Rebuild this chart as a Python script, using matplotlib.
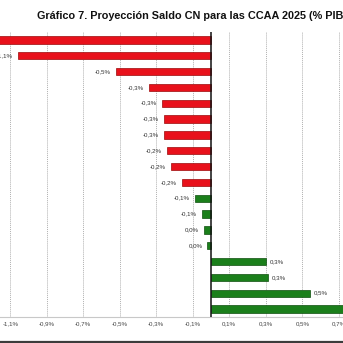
import matplotlib
matplotlib.use("Agg")
import matplotlib.pyplot as plt
from matplotlib.lines import Line2D
import numpy as np

# ---- data (top to bottom) ----
values = [-1.25, -1.06, -0.52, -0.34, -0.27, -0.26, -0.26, -0.24, -0.22, -0.16,
          -0.09, -0.05, -0.04, -0.02, 0.30, 0.31, 0.54, 0.78]
value_labels = ["-1,3%", "-1,1%", "-0,5%", "-0,3%", "-0,3%", "-0,3%", "-0,3%", "-0,2%",
                "-0,2%", "-0,2%", "-0,1%", "-0,1%", "0,0%", "0,0%", "0,3%", "0,3%",
                "0,5%", "0,8%"]
groups = ["rojo"] * 10 + ["verde"] * 8
tick_values = [-1.1, -0.9, -0.7, -0.5, -0.3, -0.1, 0.1, 0.3, 0.5, 0.7]
tick_labels = ["-1,1%", "-0,9%", "-0,7%", "-0,5%", "-0,3%", "-0,1%", "0,1%", "0,3%", "0,5%", "0,7%"]
title = "Gráfico 7. Proyección Saldo CN para las CCAA 2025 (% PIB)"

plt.rcParams['font.family'] = ['Liberation Sans', 'DejaVu Sans']

W = H = 343
fig = plt.figure(figsize=(W / 100, H / 100), dpi=100)
fig.patch.set_facecolor("white")

ax_top, ax_bot = 32, 317
ax = fig.add_axes([0, (H - ax_bot) / H, 1, (ax_bot - ax_top) / H])

face = {"rojo": "#e8111b", "verde": "#1b7f1b"}
edge = {"rojo": "#9a0a0a", "verde": "#0f4f0f"}

y = np.arange(len(values))
ax.barh(y, values, height=0.46,
        color=[face[g] for g in groups],
        edgecolor=[edge[g] for g in groups], linewidth=0.5, zorder=3)

ax.set_xlim(-211 / 182.5, 132 / 182.5)
ax.set_ylim(len(values) - 0.5, -0.5)

for yi, v, lab in zip(y, values, value_labels):
    if v < 0:
        ax.annotate(lab, (v, yi), xytext=(-5, 0), textcoords="offset pixels",
                    ha="right", va="center", fontsize=4.4, color="#333333", zorder=4)
    else:
        ax.annotate(lab, (v, yi), xytext=(4, 0), textcoords="offset pixels",
                    ha="left", va="center", fontsize=4.4, color="#333333", zorder=4)

ax.axvline(0, color="#111111", lw=1.1, zorder=5)
for tv in tick_values:
    ax.axvline(tv, color="#b0b0b0", lw=0.7, ls=(0, (1, 1)), zorder=1)

ax.set_xticks(tick_values)
ax.set_xticklabels(tick_labels, fontsize=4.4, color="#444444")
ax.tick_params(axis="x", length=0, pad=3)
ax.set_yticks([])
for s in ["top", "left", "right"]:
    ax.spines[s].set_visible(False)
ax.spines["bottom"].set_color("#c8c8c8")
ax.spines["bottom"].set_linewidth(0.8)

fig.text(36.7 / W, 1 - 19 / H, title, fontsize=7.8, fontweight="bold",
         ha="left", va="baseline", color="#111111")

fig.add_artist(Line2D([0, 1], [1 - 341.5 / H, 1 - 341.5 / H], transform=fig.transFigure,
                      color="#3c3c3c", lw=1.6))

fig.savefig("out.png", dpi=100, facecolor="white")
